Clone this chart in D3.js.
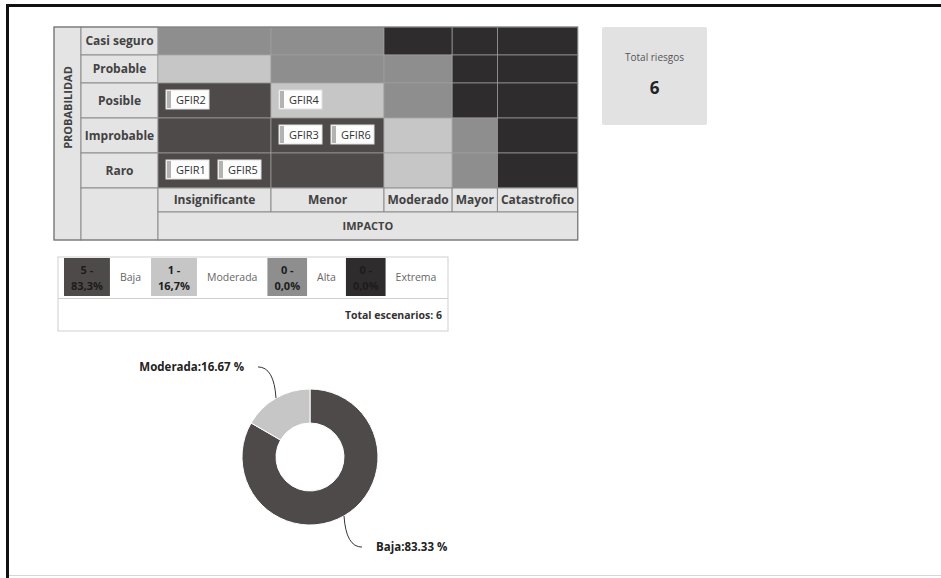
<!DOCTYPE html>
<html>
<head>
<meta charset="utf-8">
<script src="https://cdn.jsdelivr.net/npm/d3@7"></script>
<style>
body { margin: 0; background: #fff; }
svg { display: block; font-family: "Open Sans", "Noto Sans", sans-serif; }
</style>
</head>
<body>
<svg id="chart" width="941" height="578"></svg>
<script>
// matrix axes
var probabilidad = ["Casi seguro", "Probable", "Posible", "Improbable", "Raro"];
var impacto = ["Insignificante", "Menor", "Moderado", "Mayor", "Catastrofico"];

// risk level of each cell, row = probabilidad, col = impacto
var nivelPorCelda = [
    ["Alta", "Alta", "Extrema", "Extrema", "Extrema"],
    ["Moderada", "Alta", "Alta", "Extrema", "Extrema"],
    ["Baja", "Moderada", "Alta", "Extrema", "Extrema"],
    ["Baja", "Baja", "Moderada", "Alta", "Extrema"],
    ["Baja", "Baja", "Moderada", "Alta", "Extrema"]
];

// risks placed on the matrix
var riesgoIds = ["GFIR1", "GFIR2", "GFIR3", "GFIR4", "GFIR5", "GFIR6"];
var riesgoProb = ["Raro", "Posible", "Improbable", "Posible", "Raro", "Improbable"];
var riesgoImp = ["Insignificante", "Insignificante", "Menor", "Menor", "Insignificante", "Menor"];

// levels
var niveles = ["Baja", "Moderada", "Alta", "Extrema"];
var nivelConteo = [5, 1, 0, 0];
var nivelColores = ["#4f4a4a", "#c6c6c6", "#8e8e8e", "#2f2c2e"];

var totalRiesgos = riesgoIds.length;

var svg = d3.select("#chart");
var color = d3.scaleOrdinal().domain(niveles).range(nivelColores);

function textW(str, size, weight) {
    var t = svg.append("text").attr("font-size", size).attr("font-weight", weight).text(str);
    var w = t.node().getComputedTextLength();
    t.remove();
    return w;
}

/* outer frame of the scanned page */
svg.append("path")
    .attr("d", "M7.5,578 V5.5 H941")
    .attr("fill", "none").attr("stroke", "#111").attr("stroke-width", 3);
svg.append("line")
    .attr("x1", 9).attr("x2", 941).attr("y1", 575.5).attr("y2", 575.5)
    .attr("stroke", "#d6d6d6");

/* ---------- risk matrix ---------- */
var riesgos = riesgoIds.map(function (id, i) {
    return { id: id, prob: riesgoProb[i], imp: riesgoImp[i] };
});

// stack risks inside each cell
var porCelda = d3.group(riesgos, function (d) { return d.prob + "|" + d.imp; });
riesgos.forEach(function (d) {
    d.k = porCelda.get(d.prob + "|" + d.imp).indexOf(d);
});

var hdrFont = 12, hdrWeight = "bold", hdrColor = "#424242";
var mLeft = 54, probW = 27, labelW = 77, mTop = 27;
var mx = mLeft + probW + labelW;

// column widths follow the header text or the tags inside, like a table would
var colW = impacto.map(function (c) {
    var maxTags = d3.max(probabilidad, function (p) {
        var g = porCelda.get(p + "|" + c);
        return g ? g.length : 0;
    });
    return Math.max(textW(c, hdrFont, hdrWeight) + 7, maxTags * 52 + 9);
});
var rowH = probabilidad.map(function (p) {
    return riesgos.some(function (d) { return d.prob === p; }) ? 35 : 28;
});

var colStart = [0].concat(Array.from(d3.cumsum(colW))).map(function (v) { return mx + v; });
var rowStart = [0].concat(Array.from(d3.cumsum(rowH))).map(function (v) { return mTop + v; });

var x = d3.scaleOrdinal().domain(impacto).range(colStart.slice(0, impacto.length));
var xw = d3.scaleOrdinal().domain(impacto).range(colW);
var y = d3.scaleOrdinal().domain(probabilidad).range(rowStart.slice(0, probabilidad.length));
var yh = d3.scaleOrdinal().domain(probabilidad).range(rowH);

var mRight = colStart[impacto.length];
var mBottom = rowStart[probabilidad.length];
var impRowH = 24, impTitleH = 28;
var tBottom = mBottom + impRowH + impTitleH;

var matrix = svg.append("g");
var hdrFill = "#e4e4e4", gridStroke = "#8c8c8c";

// PROBABILIDAD column
matrix.append("rect")
    .attr("x", mLeft).attr("y", mTop).attr("width", probW).attr("height", tBottom - mTop)
    .attr("fill", hdrFill).attr("stroke", gridStroke);
matrix.append("text")
    .attr("transform", "translate(" + (mLeft + probW / 2 + 4) + "," + ((mTop + mBottom) / 2) + ") rotate(-90)")
    .attr("text-anchor", "middle")
    .attr("font-size", 11).attr("font-weight", hdrWeight).attr("fill", hdrColor)
    .text("PROBABILIDAD");

// row labels
matrix.selectAll(".rowlab").data(probabilidad).join("rect")
    .attr("class", "rowlab")
    .attr("x", mLeft + probW).attr("y", function (d) { return y(d); })
    .attr("width", labelW).attr("height", function (d) { return yh(d); })
    .attr("fill", hdrFill).attr("stroke", gridStroke);
matrix.selectAll(".rowtxt").data(probabilidad).join("text")
    .attr("class", "rowtxt")
    .attr("x", mLeft + probW + labelW / 2)
    .attr("y", function (d) { return y(d) + yh(d) / 2 + 4; })
    .attr("text-anchor", "middle")
    .attr("font-size", hdrFont).attr("font-weight", hdrWeight).attr("fill", hdrColor)
    .text(function (d) { return d; });

// empty corner under the row labels
matrix.append("rect")
    .attr("x", mLeft + probW).attr("y", mBottom).attr("width", labelW).attr("height", tBottom - mBottom)
    .attr("fill", hdrFill).attr("stroke", gridStroke);

// coloured cells
var celdas = [];
probabilidad.forEach(function (p, i) {
    impacto.forEach(function (c, j) {
        celdas.push({ prob: p, imp: c, nivel: nivelPorCelda[i][j] });
    });
});
matrix.selectAll(".cell").data(celdas).join("rect")
    .attr("class", "cell")
    .attr("x", function (d) { return x(d.imp); })
    .attr("y", function (d) { return y(d.prob); })
    .attr("width", function (d) { return xw(d.imp); })
    .attr("height", function (d) { return yh(d.prob); })
    .attr("fill", function (d) { return color(d.nivel); })
    .attr("stroke", "#a0a0a0").attr("stroke-width", 0.7);

// impact labels
matrix.selectAll(".collab").data(impacto).join("rect")
    .attr("class", "collab")
    .attr("x", function (d) { return x(d); }).attr("y", mBottom)
    .attr("width", function (d) { return xw(d); }).attr("height", impRowH)
    .attr("fill", hdrFill).attr("stroke", gridStroke);
matrix.selectAll(".coltxt").data(impacto).join("text")
    .attr("class", "coltxt")
    .attr("x", function (d) { return x(d) + xw(d) / 2; })
    .attr("y", mBottom + impRowH / 2 + 4)
    .attr("text-anchor", "middle")
    .attr("font-size", hdrFont).attr("font-weight", hdrWeight).attr("fill", hdrColor)
    .text(function (d) { return d; });

matrix.append("rect")
    .attr("x", mx).attr("y", mBottom + impRowH).attr("width", mRight - mx).attr("height", impTitleH)
    .attr("fill", hdrFill).attr("stroke", gridStroke);
matrix.append("text")
    .attr("x", (mx + mRight) / 2).attr("y", mBottom + impRowH + impTitleH / 2 + 4)
    .attr("text-anchor", "middle")
    .attr("font-size", 11).attr("font-weight", hdrWeight).attr("fill", hdrColor)
    .text("IMPACTO");

matrix.append("rect")
    .attr("x", mLeft).attr("y", mTop).attr("width", mRight - mLeft).attr("height", tBottom - mTop)
    .attr("fill", "none").attr("stroke", "#777");

// risk tags
var tag = matrix.selectAll(".tag").data(riesgos).join("g")
    .attr("class", "tag")
    .attr("transform", function (d) {
        return "translate(" + (x(d.imp) + 8 + d.k * 52) + "," + (y(d.prob) + 7) + ")";
    });
tag.append("rect").attr("width", 43).attr("height", 19).attr("fill", "#fdfdfd").attr("stroke", "#e0e0e0");
tag.append("rect").attr("x", 1).attr("y", 1).attr("width", 4).attr("height", 17).attr("fill", "#b3b3b3");
tag.append("text")
    .attr("x", 10).attr("y", 14)
    .attr("font-size", 11).attr("fill", "#333")
    .text(function (d) { return d.id; });

/* ---------- total box ---------- */
var tot = svg.append("g").attr("transform", "translate(602,27)");
tot.append("rect").attr("width", 105).attr("height", 98).attr("rx", 2).attr("fill", "#e2e2e2");
tot.append("text").attr("x", 52.5).attr("y", 34).attr("text-anchor", "middle")
    .attr("font-size", 10).attr("fill", "#555").text("Total riesgos");
tot.append("text").attr("x", 52.5).attr("y", 67).attr("text-anchor", "middle")
    .attr("font-size", 17).attr("font-weight", "bold").attr("fill", "#222").text(totalRiesgos);

/* ---------- level summary ---------- */
var totalEsc = d3.sum(nivelConteo);
var fmtPct = function (v) { return (v * 100).toFixed(1).replace(".", ",") + "%"; };

var leg = svg.append("g");
var lx = 58, ly = 257, lw = 390, lh = 74;
leg.append("rect").attr("x", lx).attr("y", ly).attr("width", lw).attr("height", lh)
    .attr("fill", "#fff").attr("stroke", "#cfcfcf");
leg.append("line").attr("x1", lx).attr("x2", lx + lw).attr("y1", ly + 41.5).attr("y2", ly + 41.5)
    .attr("stroke", "#cfcfcf");

var items = niveles.map(function (n, i) {
    var l1 = nivelConteo[i] + " -", l2 = fmtPct(nivelConteo[i] / totalEsc);
    return {
        nivel: n, l1: l1, l2: l2,
        sw: Math.max(textW(l1, 11, "bold"), textW(l2, 11, "bold")) + 14,
        tw: textW(n, 10.5, "normal") + 20
    };
});
var cx = lx + 6;
items.forEach(function (d) { d.x = cx; cx += d.sw + d.tw; });

var it = leg.selectAll(".it").data(items).join("g").attr("class", "it")
    .attr("transform", function (d) { return "translate(" + d.x + "," + (ly + 1) + ")"; });
it.append("rect").attr("width", function (d) { return d.sw; }).attr("height", 38)
    .attr("fill", function (d) { return color(d.nivel); });
it.append("text").attr("x", function (d) { return d.sw / 2; }).attr("y", 16)
    .attr("text-anchor", "middle").attr("font-size", 11).attr("font-weight", "bold").attr("fill", "#1c1c1c")
    .text(function (d) { return d.l1; });
it.append("text").attr("x", function (d) { return d.sw / 2; }).attr("y", 32)
    .attr("text-anchor", "middle").attr("font-size", 11).attr("font-weight", "bold").attr("fill", "#1c1c1c")
    .text(function (d) { return d.l2; });
it.append("text").attr("x", function (d) { return d.sw + d.tw / 2; }).attr("y", 23)
    .attr("text-anchor", "middle").attr("font-size", 10.5).attr("fill", "#666")
    .text(function (d) { return d.nivel; });

leg.append("text").attr("x", lx + lw - 6).attr("y", ly + 62)
    .attr("text-anchor", "end").attr("font-size", 10.5).attr("font-weight", "bold").attr("fill", "#333")
    .text("Total escenarios: " + totalEsc);

/* ---------- donut ---------- */
var dcx = 310, dcy = 457, rOut = 68, rIn = 34, rLab = 104;
var pieData = niveles.map(function (n, i) { return { nivel: n, v: nivelConteo[i] }; })
    .filter(function (d) { return d.v > 0; });
var arcs = d3.pie().sort(null).value(function (d) { return d.v; })(pieData);
var arc = d3.arc().innerRadius(rIn).outerRadius(rOut);

var donut = svg.append("g").attr("transform", "translate(" + dcx + "," + dcy + ")");
donut.selectAll("path.slice").data(arcs).join("path")
    .attr("class", "slice")
    .attr("d", arc)
    .attr("fill", function (d) { return color(d.data.nivel); })
    .attr("stroke", "#fff").attr("stroke-width", 1);

arcs.forEach(function (d) {
    var a = (d.startAngle + d.endAngle) / 2;
    var sx = Math.sin(a), sy = -Math.cos(a);
    var side = sx >= 0 ? 1 : -1;
    var p0 = [sx * rOut, sy * rOut], p1 = [sx * rLab, sy * rLab];
    donut.append("path")
        .attr("d", "M" + p0 + " Q" + [p1[0] - side * 16, p1[1]] + " " + p1)
        .attr("fill", "none").attr("stroke", "#333").attr("stroke-width", 1);
    donut.append("text")
        .attr("x", p1[0] + side * 14).attr("y", p1[1] + 4)
        .attr("text-anchor", side > 0 ? "start" : "end")
        .attr("font-size", 11.5).attr("font-weight", "bold").attr("fill", "#222")
        .text(d.data.nivel + ":" + (d.data.v / totalEsc * 100).toFixed(2) + " %");
});
</script>
</body>
</html>
